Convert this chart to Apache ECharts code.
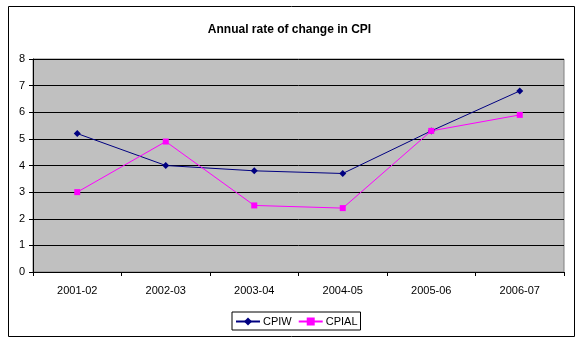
<!DOCTYPE html>
<html><head><meta charset="utf-8">
<script src="https://cdn.jsdelivr.net/npm/echarts@6/dist/echarts.min.js"></script>
<style>html,body{margin:0;padding:0;background:#fff}#c{width:579px;height:341px}</style>
</head><body><div id="c"></div>
<script>
var categories = ['2001-02','2002-03','2003-04','2004-05','2005-06','2006-07'];
var cpiw = [5.2, 4.0, 3.8, 3.7, 5.3, 6.8];
var cpial = [3.0, 4.9, 2.5, 2.4, 5.3, 5.9];
var seriesNames = ['CPIW', 'CPIAL'];

var chart = echarts.init(document.getElementById('c'), null, {renderer: 'canvas'});
var font = 'Arial, "Liberation Sans", sans-serif';
chart.setOption({
  animation: false,
  backgroundColor: '#fff',
  title: {
    text: 'Annual rate of change in CPI',
    left: 'center', top: 19,
    textStyle: {fontFamily: font, fontSize: 12, fontWeight: 'bold', color: '#000'}
  },
  graphic: [{
    type: 'rect', left: 6, top: 4, z: 100,
    shape: {x: 0, y: 0, width: 566, height: 330},
    style: {fill: 'none', stroke: '#000', lineWidth: 1}
  }],
  legend: {
    data: seriesNames,
    left: 232, top: 312,
    orient: 'horizontal',
    itemWidth: 24, itemHeight: 10, itemGap: 6,
    padding: [4, 3, 3, 3],
    borderColor: '#000', borderWidth: 1,
    textStyle: {fontFamily: font, fontSize: 11, color: '#000', padding: [0, 0, 0, -2]}
  },
  grid: {
    left: 33, right: 15, top: 59, bottom: 69,
    show: true, backgroundColor: '#C0C0C0', borderColor: '#808080', borderWidth: 1
  },
  xAxis: {
    type: 'category', data: categories, boundaryGap: true,
    axisLine: {lineStyle: {color: '#000', width: 1}},
    axisTick: {show: true, inside: false, length: 4, lineStyle: {color: '#000'}},
    axisLabel: {fontFamily: font, fontSize: 11, color: '#000', margin: 13}
  },
  yAxis: {
    type: 'value', min: 0, max: 8, interval: 1,
    axisLine: {show: true, lineStyle: {color: '#000', width: 1}},
    axisTick: {show: true, length: 4, lineStyle: {color: '#000'}},
    axisLabel: {fontFamily: font, fontSize: 11, color: '#000', margin: 8},
    splitLine: {show: true, lineStyle: {color: '#000', width: 1}}
  },
  series: [
    {name: 'CPIW', type: 'line', data: cpiw, symbol: 'diamond', symbolSize: 7,
     lineStyle: {color: '#000080', width: 1}, itemStyle: {color: '#000080'}},
    {name: 'CPIAL', type: 'line', data: cpial, symbol: 'rect', symbolSize: 6,
     lineStyle: {color: '#FF00FF', width: 1}, itemStyle: {color: '#FF00FF'}}
  ]
});
</script></body></html>
